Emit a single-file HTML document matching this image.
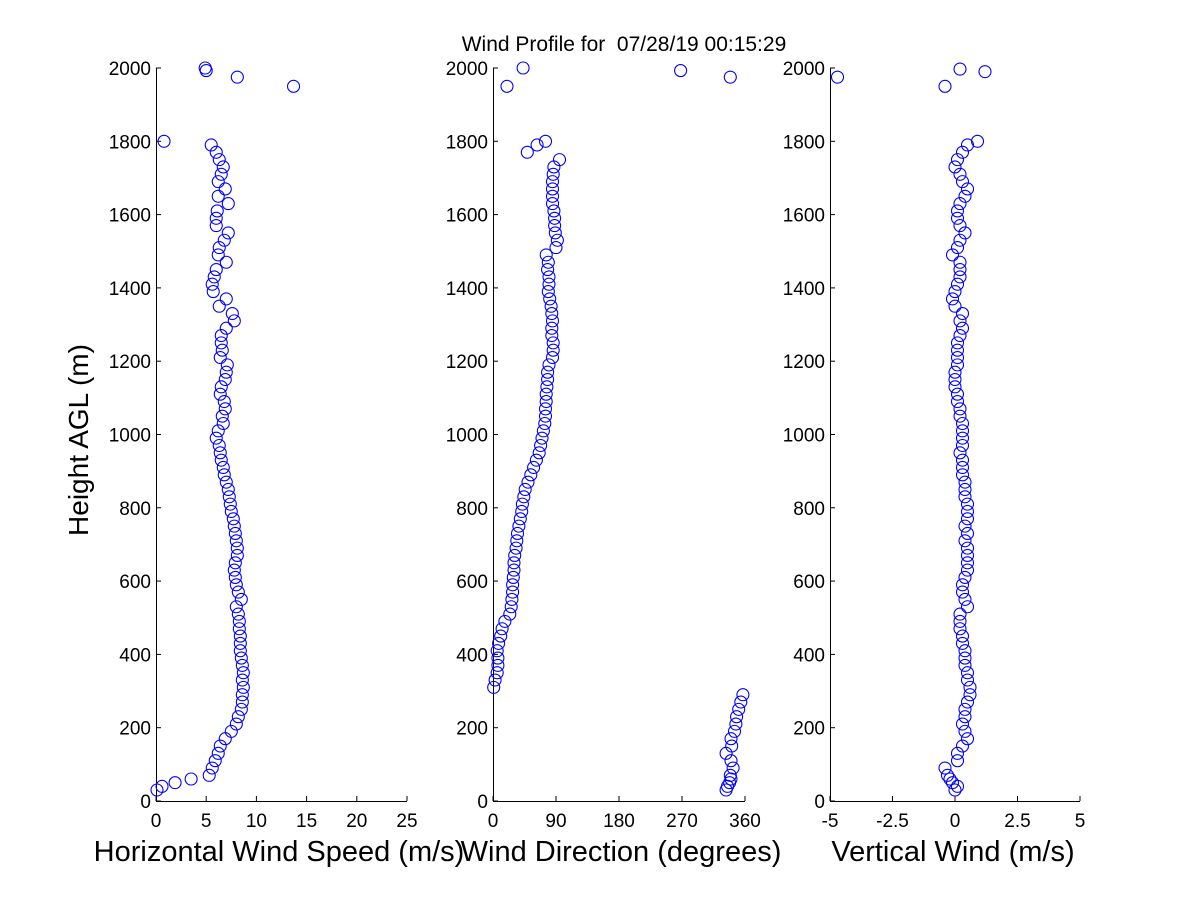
<!DOCTYPE html>
<html><head><meta charset="utf-8"><style>
body{margin:0;background:#fff;}
svg text{font-family:"Liberation Sans",Arial,sans-serif;fill:#000;}
</style></head><body>
<svg id="chart" width="1200" height="900" xmlns="http://www.w3.org/2000/svg">
<rect width="1200" height="900" fill="#fff"/>
<text x="624" y="51" font-size="21" text-anchor="middle" xml:space="preserve">Wind Profile for  07/28/19 00:15:29</text>
<text transform="translate(88,440) rotate(-90)" font-size="28" text-anchor="middle">Height AGL (m)</text>
<g id="plots"></g>
</svg>
<script>
const heights=[30,40,50,60,70,90,110,130,150,170,190,210,230,250,270,290,310,330,350,370,390,410,430,450,470,490,510,530,550,570,590,610,630,650,670,690,710,730,750,770,790,810,830,850,870,890,910,930,950,970,990,1010,1030,1050,1070,1090,1110,1130,1150,1170,1190,1210,1230,1250,1270,1290,1310,1330,1350,1370,1390,1410,1430,1450,1470,1490,1510,1530,1550,1570,1590,1610,1630,1650,1670,1690,1710,1730,1750,1770,1790,1800];
const speed=[0.1,0.6,1.9,3.5,5.3,5.6,5.9,6.2,6.4,6.9,7.5,8.0,8.2,8.5,8.6,8.6,8.7,8.6,8.7,8.6,8.5,8.4,8.4,8.4,8.3,8.3,8.2,8.0,8.5,8.2,8.0,7.9,7.8,7.9,8.1,8.1,8.0,7.9,7.8,7.7,7.5,7.4,7.3,7.2,7.0,6.8,6.7,6.5,6.4,6.3,6.0,6.2,6.7,6.6,6.9,6.8,6.4,6.5,6.9,7.0,7.1,6.4,6.6,6.5,6.5,7.0,7.8,7.6,6.3,7.0,5.7,5.6,5.8,6.0,7.0,6.2,6.3,6.8,7.2,6.0,6.0,6.1,7.2,6.2,6.9,6.2,6.5,6.7,6.3,6.0,5.5,0.8];
const direction=[333,335,338,340,339,343,340,333,341,340,345,347,348,351,354,357,1,3,6,7,7,6,8,11,13,17,24,26,27,28,28,29,30,30,31,33,34,35,37,39,41,42,44,46,50,54,58,62,66,68,70,72,74,75,75,76,76,77,78,78,80,85,86,86,84,84,85,84,83,81,79,80,80,78,79,76,90,92,89,88,88,87,85,85,85,85,86,87,95,49,63,75];
const vertical=[0,0.1,-0.1,-0.2,-0.3,-0.4,0.1,0.1,0.3,0.5,0.4,0.3,0.4,0.4,0.5,0.6,0.6,0.5,0.5,0.4,0.4,0.4,0.3,0.3,0.2,0.2,0.2,0.5,0.4,0.3,0.3,0.4,0.5,0.5,0.5,0.5,0.4,0.5,0.4,0.5,0.5,0.5,0.4,0.4,0.4,0.3,0.3,0.3,0.2,0.3,0.3,0.3,0.3,0.2,0.2,0.1,0.1,0.0,0.0,0.0,0.1,0.1,0.1,0.1,0.2,0.3,0.2,0.3,0.0,-0.1,0.0,0.1,0.2,0.2,0.2,-0.1,0.1,0.2,0.4,0.2,0.1,0.1,0.2,0.4,0.5,0.3,0.2,0.0,0.1,0.3,0.5,0.9];
const topHeights=[1950,1975,1993,2000];
const topSpeed=[13.7,8.1,5.0,4.9];
const topDirHeights=[1950,2000,1993,1975];
const topDirection=[20,43,268,339];
const topVertHeights=[1950,1975,1997,1990];
const topVertical=[-0.4,-4.7,0.2,1.2];
const yTicks=[0,200,400,600,800,1000,1200,1400,1600,1800,2000];
const speedTicks=[0,5,10,15,20,25];
const dirTicks=[0,90,180,270,360];
const vertTicks=[-5,-2.5,0,2.5,5];

const NS='http://www.w3.org/2000/svg';
const g=document.getElementById('plots');
const Y0=801,Y1=68;
function yScale(h){return Y0+(Y1-Y0)*(h/2000);}
function mk(tag,attrs,parent){const e=document.createElementNS(NS,tag);for(const k in attrs)e.setAttribute(k,attrs[k]);(parent||g).appendChild(e);return e;}
function panel(name,x0,x1,dmin,dmax,xt,title,titleX,hs,vals,ths,tvals){
  const grp=mk('g',{});
  
  
  const xs=v=>x0+(x1-x0)*(v-dmin)/(dmax-dmin);
  const ax=mk('path',{d:`M${x0+0.5},${Y1}V${Y0+0.5}H${x1}`,stroke:'#000','stroke-width':1,fill:'none'},grp);
  
  
  yTicks.forEach(t=>{const y=yScale(t);
    mk('line',{x1:x0,x2:x0+5,y1:y,y2:y,stroke:'#000'},grp);
    const tx=mk('text',{x:x0-5,y:y+7,'font-size':19,'text-anchor':'end'},grp);tx.textContent=t;
    
    
  });
  xt.forEach(t=>{const x=xs(t);
    mk('line',{x1:x,x2:x,y1:Y0,y2:Y0-5,stroke:'#000'},grp);
    const tx=mk('text',{x:x,y:827,'font-size':19,'text-anchor':'middle'},grp);tx.textContent=t;
    
    
  });
  const lt=mk('text',{x:titleX,y:861,'font-size':29,'text-anchor':'middle'},grp);lt.textContent=title;
  
  
  const pts=(H,V)=>H.forEach((h,i)=>{
    const c=mk('circle',{cx:xs(V[i]),cy:yScale(h),r:6,fill:'none',stroke:'#0000ff','stroke-width':1.1},grp);
    
    
  });
  pts(hs,vals);pts(ths,tvals);
}
panel('speed',156,407,0,25,speedTicks,'Horizontal Wind Speed (m/s)',279,heights,speed,topHeights,topSpeed);
panel('direction',493,745,0,360,dirTicks,'Wind Direction (degrees)',621,heights,direction,topDirHeights,topDirection);
panel('vertical',830,1080,-5,5,vertTicks,'Vertical Wind (m/s)',953,heights,vertical,topVertHeights,topVertical);
</script>
</body></html>
